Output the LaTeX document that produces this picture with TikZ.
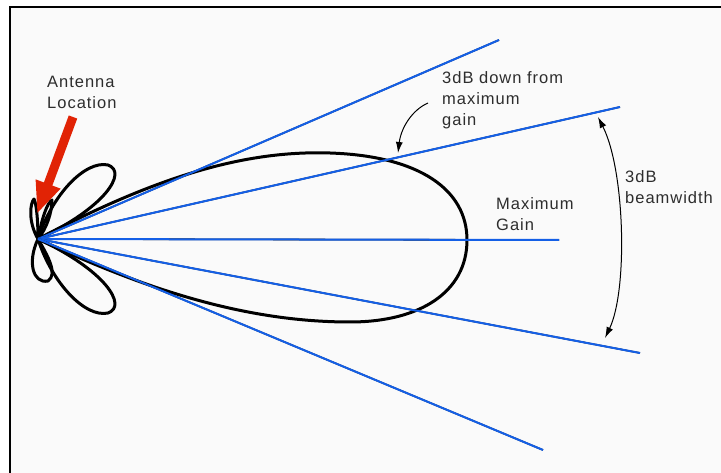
\documentclass[tikz,border=0pt]{standalone}
\usepackage{fontspec}
\newfontfamily\lblfont[LetterSpace=6]{Liberation Sans}
\usetikzlibrary{arrows.meta}
\definecolor{raycol}{RGB}{20,95,230}
\definecolor{antred}{RGB}{225,35,5}
\definecolor{txtcol}{RGB}{45,45,45}
\begin{document}
\begin{tikzpicture}[x=1pt,y=-1pt,
    ray/.style={raycol,line width=2pt},
    rayshadow/.style={black,line width=1.6pt,yshift=1.4pt},
    lobe/.style={black,line width=3pt,line join=round},
    lbl/.style={inner sep=0pt,anchor=base west,align=left,text=txtcol,
        font=\lblfont\fontsize{16.5}{21}\selectfont},
    >={Latex[length=11pt,width=7pt]}]
    \useasboundingbox (0,0) rectangle (721,473);
    \fill[white] (0,0) rectangle (721,473);
    \fill[black!2] (10,7) rectangle (721,473);
    \draw[black,line width=2.5pt] (10,473) -- (10,7) -- (721,7);

    % antenna and ray ends
    \coordinate (ant) at (38,239);
    \coordinate (top) at (499,40);
    \coordinate (up) at (620,107);
    \coordinate (mid) at (559,240);
    \coordinate (low) at (640,353);
    \coordinate (bot) at (543,450);

    % radiation pattern
    \draw[lobe] (ant) .. controls (150,180) and (240,150) .. (330,153)
        .. controls (420,156) and (467,190) .. (467,240)
        .. controls (467,292) and (420,322) .. (350,322)
        .. controls (250,322) and (150,292) .. (ant);
    \draw[lobe] (ant) .. controls (52,195) and (85,160) .. (108,165)
        .. controls (128,172) and (105,208) .. (ant);
    \draw[lobe] (ant) .. controls (52,283) and (85,318) .. (108,313)
        .. controls (128,306) and (105,270) .. (ant);
    \draw[lobe] (ant) .. controls (28,222) and (30,203) .. (34,199)
        .. controls (37,205) and (38,225) .. (ant);
    \draw[lobe] (ant) .. controls (42,218) and (47,203) .. (52,200)
        .. controls (52,212) and (47,228) .. (ant);
    \draw[lobe] (ant) .. controls (27,262) and (33,284) .. (48,281)
        .. controls (58,274) and (48,256) .. (ant);

    % beam edges
    \foreach \e in {top,up,mid,low,bot} {
        \draw[rayshadow] (ant) -- (\e);
        \draw[ray] (ant) -- (\e);
    }

    % antenna marker
    \coordinate (redtail) at (73,117);
    \coordinate (redtip) at (37,214);
    \draw[antred,line width=9pt,-{Triangle[width=24pt,length=32pt]}] (redtail) -- (redtip);

    % labels
    \node[lbl] (antlbl) at (47,109) {Antenna\\Location};
    \node[lbl] (downlbl) at (442,126) {3dB down from\\maximum\\gain};
    \node[lbl] (maxlbl) at (496,231) {Maximum\\Gain};
    \node[lbl] (bwlbl) at (625,204) {3dB\\beamwidth};

    % pointers
    \coordinate (downtail) at (428,103);
    \coordinate (downtip) at (398,153);
    \draw[->,line width=1pt] (downtail) .. controls (412,110) and (401,128) .. (downtip);
    \coordinate (bwtop) at (598,117);
    \coordinate (bwbot) at (605,338);
    \draw[<->,line width=1pt] (bwtop) .. controls (625,170) and (628,290) .. (bwbot);
\end{tikzpicture}
\end{document}
